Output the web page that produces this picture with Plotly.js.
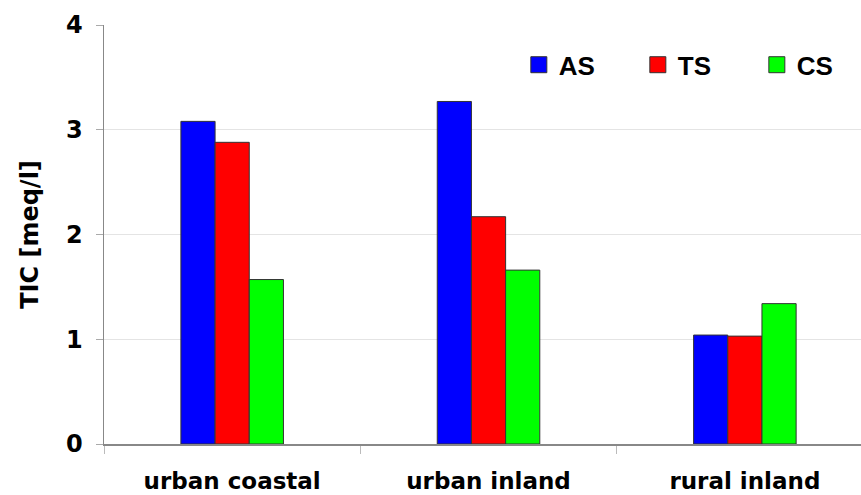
<!DOCTYPE html>
<html>
<head>
<meta charset="utf-8">
<script src="https://cdn.plot.ly/plotly-3.0.1.min.js"></script>
<style>html,body{margin:0;padding:0;background:#fff;}#chart{width:861px;height:495px;}</style>
</head>
<body>
<div id="chart"></div>
<script>
const categories = ["urban coastal", "urban inland", "rural inland"];
const seriesNames = ["AS", "TS", "CS"];
const AS = [3.08, 3.27, 1.04];
const TS = [2.88, 2.17, 1.03];
const CS = [1.57, 1.66, 1.34];
const yTicks = [0, 1, 2, 3, 4];
const colors = ["#0000ff", "#ff0000", "#00ff00"];

const values = [AS, TS, CS];
const traces = [];
values.forEach((v, i) => {
  traces.push({
    type: "bar", x: categories, y: v, name: seriesNames[i], showlegend: false,
    marker: {color: colors[i], line: {color: "#333", width: 1}}, hoverinfo: "y"
  });
});
values.forEach((v, i) => {
  traces.push({
    type: "scatter", mode: "markers", x: [null], y: [null], name: seriesNames[i],
    marker: {symbol: "square", size: 18, color: colors[i], line: {color: "#333", width: 1}}
  });
});

const fam = "DejaVu Sans, Verdana, sans-serif";
const fam2 = "Liberation Sans, Arial, sans-serif";
const layout = {
  width: 861, height: 495,
  margin: {l: 104, r: 0, t: 25, b: 51, autoexpand: false},
  paper_bgcolor: "#fff", plot_bgcolor: "#fff",
  barmode: "group", bargap: 0.6, bargroupgap: 0,
  font: {family: fam, size: 24, color: "#000"},
  xaxis: {
    type: "category", range: [-0.5, 2.453], tickson: "boundaries",
    ticks: "outside", ticklen: 8, tickcolor: "#bbb", tickwidth: 1,
    showline: true, linecolor: "#888", linewidth: 1.5, showgrid: false,
    tickfont: {family: fam, size: 23, color: "#000", weight: "bold"},
    ticklabelstandoff: 16, zeroline: false, automargin: false
  },
  yaxis: {
    range: [0, 4], tickvals: yTicks, ticktext: yTicks.map(String),
    ticks: "outside", ticklen: 7, tickcolor: "#aaa",
    showline: true, linecolor: "#888", linewidth: 1.5,
    showgrid: true, gridcolor: "#e4e4e4", gridwidth: 1, zeroline: false,
    tickfont: {family: fam, size: 24, color: "#000", weight: "bold"},
    ticklabelstandoff: 8, automargin: false,
    title: {text: "TIC [meq/l]", font: {family: fam, size: 24, color: "#000", weight: "bold"}, standoff: 20}
  },
  legend: {
    orientation: "h", x: 0.548, xanchor: "left", y: 0.905, yanchor: "middle",
    bgcolor: "rgba(0,0,0,0)", itemwidth: 30, entrywidth: 74, entrywidthmode: "pixels",
    font: {family: fam2, size: 26, color: "#000", weight: "bold"}
  },
  showlegend: true
};
Plotly.newPlot("chart", traces, layout, {displayModeBar: false, staticPlot: true});
</script>
</body>
</html>
